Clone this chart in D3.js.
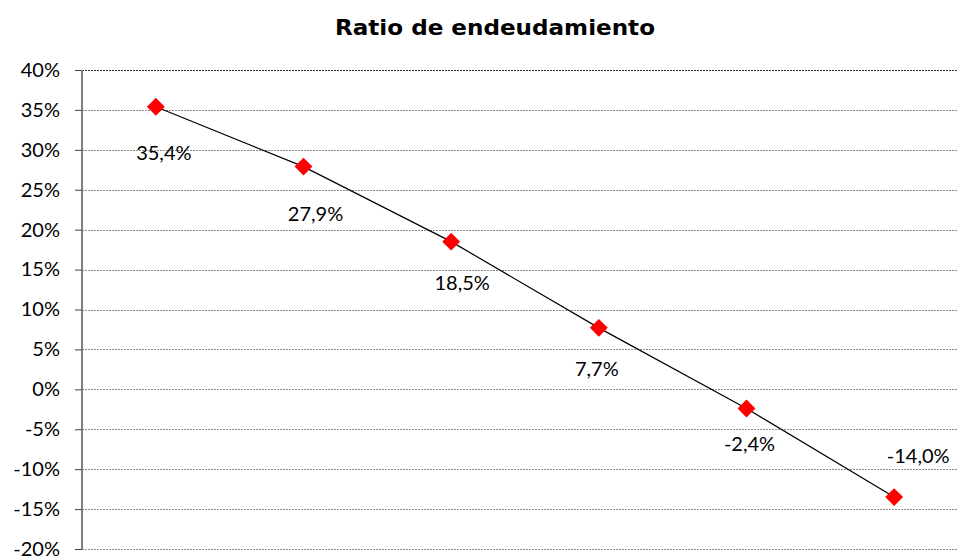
<!DOCTYPE html>
<html>
<head>
<meta charset="utf-8">
<script src="https://cdn.jsdelivr.net/npm/d3@7"></script>
<style>
  body { margin: 0; background: #fff; }
  svg text { font-family: Lato, "Open Sans", sans-serif; fill: #000; }
  .title { font-family: "DejaVu Sans", Lato, sans-serif; font-weight: bold; }
</style>
</head>
<body>
<div id="chart"></div>
<script>
// data
const periods = ["P1", "P2", "P3", "P4", "P5", "P6"];
const ratios = [35.4, 27.9, 18.5, 7.7, -2.4, -13.5];
const ratioLabels = ["35,4%", "27,9%", "18,5%", "7,7%", "-2,4%", "-14,0%"];
const yTicks = [-20, -15, -10, -5, 0, 5, 10, 15, 20, 25, 30, 35, 40];

const width = 958, height = 557;
const plot = {left: 82, right: 968, top: 70, bottom: 549};

// where each label sits relative to its marker (Excel labels were nudged by hand)
const labelShift = [[8, 46], [12, 47], [11, 41], [-2, 41], [3, 35], [24, -41]];

const svg = d3.select("#chart").append("svg")
    .attr("width", width)
    .attr("height", height);

const x = d3.scalePoint()
    .domain(periods)
    .range([plot.left, plot.right])
    .padding(0.5);

const y = d3.scaleLinear()
    .domain([-20, 40])
    .range([plot.bottom, plot.top]);

// gridlines
svg.append("g")
    .selectAll("line")
    .data(yTicks)
    .enter().append("line")
    .attr("x1", plot.left)
    .attr("x2", width)
    .attr("y1", d => Math.round(y(d)) + 0.5)
    .attr("y2", d => Math.round(y(d)) + 0.5)
    .style("stroke", d => d === 40 ? "#333" : "#8a8a8a")
    .style("stroke-width", 1)
    .style("stroke-dasharray", "2,1");

// y axis
const yAxis = d3.axisLeft(y)
    .tickValues(yTicks)
    .tickSize(7)
    .tickPadding(15)
    .tickFormat(d => d + "%");

const axisG = svg.append("g")
    .attr("transform", "translate(" + plot.left + ",0)")
    .call(yAxis);

axisG.select(".domain")
    .attr("d", "M0," + plot.top + "V" + plot.bottom)
    .style("stroke", "#808080")
    .style("stroke-width", 2);

axisG.selectAll(".tick line")
    .style("stroke", "#444");

axisG.selectAll(".tick text")
    .style("font-family", "Lato, 'Open Sans', sans-serif")
    .style("font-size", "20px")
    .style("fill", "#000");

// line
const line = d3.line()
    .x((d, i) => x(periods[i]))
    .y(d => y(d));

svg.append("path")
    .datum(ratios)
    .attr("d", line)
    .style("fill", "none")
    .style("stroke", "#000")
    .style("stroke-width", 1.2);

// diamond markers
svg.append("g")
    .selectAll("path")
    .data(ratios)
    .enter().append("path")
    .attr("d", d3.symbol().type(d3.symbolSquare).size(160))
    .attr("transform", (d, i) => "translate(" + x(periods[i]) + "," + y(d) + ") rotate(45)")
    .style("fill", "#ff0000");

// data labels
svg.append("g")
    .selectAll("text")
    .data(ratios)
    .enter().append("text")
    .attr("x", (d, i) => x(periods[i]) + labelShift[i][0])
    .attr("y", (d, i) => y(d) + labelShift[i][1])
    .attr("dy", "0.36em")
    .attr("text-anchor", "middle")
    .style("font-size", "20px")
    .text((d, i) => ratioLabels[i]);

// title
svg.append("text")
    .attr("class", "title")
    .attr("x", 495)
    .attr("y", 35)
    .attr("text-anchor", "middle")
    .attr("textLength", 320)
    .attr("lengthAdjust", "spacingAndGlyphs")
    .style("font-size", "21px")
    .text("Ratio de endeudamiento");
</script>
</body>
</html>
